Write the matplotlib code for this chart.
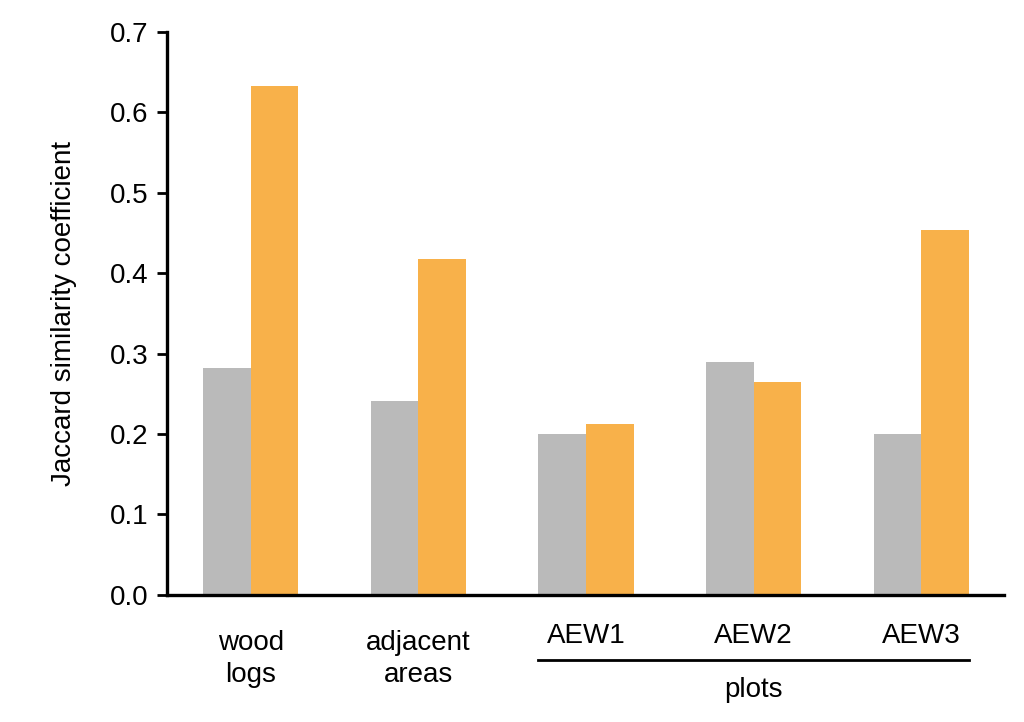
import numpy as np
import matplotlib
matplotlib.use('Agg')
import matplotlib.pyplot as plt
import matplotlib.transforms as mtransforms

plt.rcParams['font.family'] = ['Liberation Sans', 'DejaVu Sans']

# values
categories = ['wood\nlogs', 'adjacent\nareas', 'AEW1', 'AEW2', 'AEW3']
gray_vals = [0.282, 0.241, 0.200, 0.290, 0.200]
orange_vals = [0.632, 0.418, 0.213, 0.265, 0.453]
yticks = [0.0, 0.1, 0.2, 0.3, 0.4, 0.5, 0.6, 0.7]

fig = plt.figure(figsize=(10.24, 7.22), dpi=100)
ax = fig.add_axes([0.163, 0.176, 0.817, 0.78])

x = np.arange(len(categories))
w = 0.284
ax.bar(x - w / 2, gray_vals, w, color='#BABABA', linewidth=0)
ax.bar(x + w / 2, orange_vals, w, color='#F8B14A', linewidth=0)

ax.set_xlim(-0.5, 4.49)
ax.set_ylim(0, 0.7)
ax.set_yticks(yticks)
ax.set_yticklabels(['%.1f' % t for t in yticks])
ax.set_xticks([])

for s in ['top', 'right']:
    ax.spines[s].set_visible(False)
ax.spines['left'].set_linewidth(2.4)
ax.spines['bottom'].set_linewidth(2.4)
ax.tick_params(axis='y', labelsize=20, width=2, length=7, pad=6)
ax.set_ylabel('Jaccard similarity coefficient', fontsize=20, labelpad=24)

# category labels, two-line ones sit a bit lower than the AEW ones
# (baseline of a multi-line text is the baseline of its last line)
trans = mtransforms.blended_transform_factory(ax.transData, ax.transAxes)
for i, lab in enumerate(categories):
    if '\n' in lab:
        ax.text(x[i], -0.1545, lab, fontsize=20, ha='center', va='baseline',
                linespacing=1.3, transform=trans)
    else:
        ax.text(x[i], -0.0853, lab, fontsize=20, ha='center', va='baseline',
                transform=trans)

# group bracket for the plots
ax.plot([2 - w, 4 + w], [-0.115, -0.115], color='black', lw=2,
        transform=trans, clip_on=False)
ax.text(3, -0.181, 'plots', fontsize=20, ha='center', va='baseline',
        transform=trans)

fig.savefig('out.png', dpi=100)
